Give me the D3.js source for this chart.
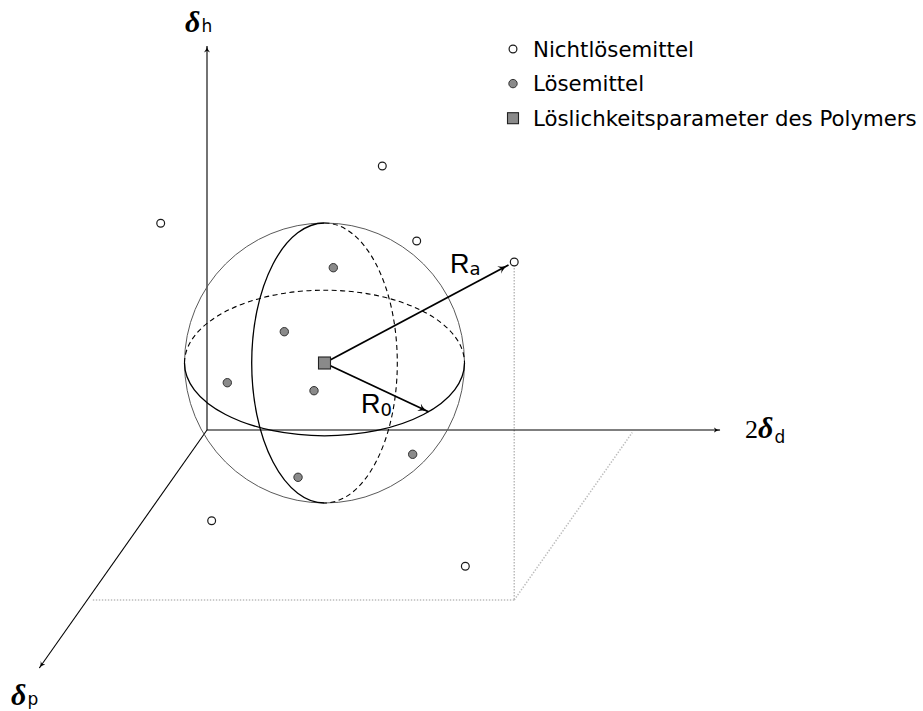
<!DOCTYPE html>
<html>
<head>
<meta charset="utf-8">
<script src="https://cdn.jsdelivr.net/npm/d3@7"></script>
<style>
  html, body { margin: 0; padding: 0; background: #fff; }
  svg { display: block; }
</style>
</head>
<body>
<svg id="chart" width="923" height="711"></svg>
<script>
// Hansen solubility space: points are [δd, δp, δh] in the same arbitrary units.
const nonSolvents = [
  [-4.63, 0, 20.67],
  [17.53, 0, 26.4],
  [20.97, 0, 18.9],
  [42.7, 17, 33.8],
  [8.92, 12, 2.93],
  [37.81, 17, 3.37]
];
const solvents = [
  [12.63, 0, 16.23],
  [7.73, 0, 9.83],
  [2.03, 0, 4.73],
  [10.7, 0, 3.93],
  [24.09, 5, 2.57],
  [14.74, 8, 3.27]
];
const polymer = [11.75, 0, 6.7];        // solubility parameter of the polymer (sphere centre)
const interactionRadius = 14;           // R0
const distantNonSolvent = nonSolvents[3]; // the point reached by Ra
const r0Angle = 42;                     // where R0 meets the equator, degrees
const axisLength = { d: 51.3, h: 38.4, p: 23.8 };

const legendLabels = ["Nichtlösemittel", "Lösemittel", "Löslichkeitsparameter des Polymers"];

// oblique projection: δd to the right, δh upward, δp receding down-left
const dScale = d3.scaleLinear().domain([0, 51.3]).range([207, 720]);
const hScale = d3.scaleLinear().domain([0, 38.4]).range([430, 46]);
const pScale = d3.scaleLinear().domain([0, 23.8]).range([0, 238]);
const pShear = -0.7045;
function project([d, p, h]) {
  const off = pScale(p);
  return [dScale(d) + pShear * off, hScale(h) + off];
}

const svg = d3.select("#chart");
const defs = svg.append("defs");

function arrowMarker(id, len, wid) {
  defs.append("marker")
    .attr("id", id)
    .attr("viewBox", `0 ${-wid} ${len} ${2 * wid}`)
    .attr("refX", len - 0.5).attr("refY", 0)
    .attr("markerUnits", "userSpaceOnUse")
    .attr("markerWidth", len).attr("markerHeight", 2 * wid)
    .attr("orient", "auto")
    .append("path")
    .attr("d", `M0,${-wid} Q${len * 0.45},0 ${len},0 Q${len * 0.45},0 0,${wid} L${len * 0.25},0 Z`)
    .attr("fill", "#000");
}
arrowMarker("axisArrow", 7, 3);
arrowMarker("radArrow", 11, 4.2);

const line = d3.line();

// --- dotted projection of the distant non-solvent onto the δd–δp plane
const [dd, dp, dh] = distantNonSolvent;
const guide = svg.append("g")
  .attr("fill", "none")
  .attr("stroke", "#bcbcbc")
  .attr("stroke-width", 1.5)
  .attr("stroke-dasharray", "1.4,1.6");
guide.append("path").attr("d", line([project([dd, dp, dh]), project([dd, dp, 0])]));
guide.append("path").attr("d", line([project([dd, dp, 0]), project([0.45, dp, 0])]));
guide.append("path").attr("d", line([project([dd, dp, 0]), project([dd, 0.25, 0])]));

// --- axes
const axes = svg.append("g")
  .attr("fill", "none")
  .attr("stroke", "#000")
  .attr("stroke-width", 1.1);
const O = project([0, 0, 0]);
axes.append("path").attr("d", line([O, project([axisLength.d, 0, 0])])).attr("marker-end", "url(#axisArrow)");
axes.append("path").attr("d", line([O, project([0, 0, axisLength.h])])).attr("marker-end", "url(#axisArrow)");
axes.append("path").attr("d", line([O, project([0, axisLength.p, 0])])).attr("marker-end", "url(#axisArrow)");

// --- solubility sphere
const [cx, cy] = project(polymer);
const R = dScale(interactionRadius) - dScale(0);
const minor = R * 0.52;
const sphere = svg.append("g").attr("fill", "none");
sphere.append("circle")
  .attr("cx", cx).attr("cy", cy).attr("r", R)
  .attr("stroke", "#5a5a5a").attr("stroke-width", 1);
// equator: hidden back half dashed, front half solid
sphere.append("path")
  .attr("d", `M${cx - R},${cy} A${R},${minor} 0 0 1 ${cx + R},${cy}`)
  .attr("stroke", "#000").attr("stroke-width", 1.1).attr("stroke-dasharray", "5,3.5");
sphere.append("path")
  .attr("d", `M${cx - R},${cy} A${R},${minor} 0 0 0 ${cx + R},${cy}`)
  .attr("stroke", "#000").attr("stroke-width", 1.3);
// meridian: front (left) half solid, back half dashed
sphere.append("path")
  .attr("d", `M${cx},${cy - R} A${minor},${R} 0 0 0 ${cx},${cy + R}`)
  .attr("stroke", "#000").attr("stroke-width", 1.3);
sphere.append("path")
  .attr("d", `M${cx},${cy - R} A${minor},${R} 0 0 1 ${cx},${cy + R}`)
  .attr("stroke", "#000").attr("stroke-width", 1.1).attr("stroke-dasharray", "5,3.5");

// --- radius arrows
const radii = svg.append("g").attr("stroke", "#000").attr("stroke-width", 1.8).attr("fill", "none");
const target = project(distantNonSolvent);
const vx = target[0] - cx, vy = target[1] - cy, vl = Math.hypot(vx, vy);
const raEnd = [target[0] - vx / vl * 6.5, target[1] - vy / vl * 6.5];
radii.append("path").attr("d", line([[cx, cy], raEnd])).attr("marker-end", "url(#radArrow)");
const t = r0Angle * Math.PI / 180;
const r0End = [cx + R * Math.cos(t), cy + minor * Math.sin(t)];
radii.append("path").attr("d", line([[cx, cy], r0End])).attr("marker-end", "url(#radArrow)");

// --- data points
svg.append("g").selectAll("circle").data(nonSolvents).join("circle")
  .attr("cx", d => project(d)[0]).attr("cy", d => project(d)[1]).attr("r", 3.9)
  .attr("fill", "#fff").attr("stroke", "#1a1a1a").attr("stroke-width", 1.2);
svg.append("g").selectAll("circle").data(solvents).join("circle")
  .attr("cx", d => project(d)[0]).attr("cy", d => project(d)[1]).attr("r", 4.2)
  .attr("fill", "#8a8a8a").attr("stroke", "#333").attr("stroke-width", 1);
svg.append("rect")
  .attr("x", cx - 6).attr("y", cy - 6).attr("width", 12).attr("height", 12)
  .attr("fill", "#8a8a8a").attr("stroke", "#222").attr("stroke-width", 1.1);

// --- labels
const sans = "'DejaVu Sans', 'Liberation Sans', sans-serif";
const serif = "'Liberation Serif', 'DejaVu Serif', serif";
function subLabel(x, y, parts) {
  const tx = svg.append("text").attr("x", x).attr("y", y).attr("fill", "#000");
  parts.forEach(p => {
    tx.append("tspan")
      .attr("font-family", p.family).attr("font-size", p.size)
      .attr("font-weight", p.weight || "normal").attr("font-style", p.style || "normal")
      .attr("dy", p.dy || 0).attr("dx", p.dx || 0)
      .text(p.text);
  });
  return tx;
}
const delta = { family: serif, size: 30, weight: "bold", style: "italic", text: "δ" };
subLabel(185, 32, [delta, { family: sans, size: 17, text: "h", dx: 1 }]);
subLabel(745, 438, [{ family: serif, size: 26, text: "2" }, delta, { family: sans, size: 17, text: "d", dy: 5, dx: 1 }]);
subLabel(11, 705, [delta, { family: sans, size: 17, text: "p", dx: 1 }]);

const rFont = "'Liberation Sans', Arial, sans-serif";
subLabel(450, 273, [{ family: rFont, size: 27, text: "R" }, { family: sans, size: 18, text: "a", dy: 2 }]);
subLabel(361, 413, [{ family: rFont, size: 27, text: "R" }, { family: sans, size: 18, text: "0", dy: 3 }]);

// --- legend
const legend = svg.append("g").attr("transform", "translate(513,49)");
const rowGap = 34.6;
legendLabels.forEach((lab, i) => {
  const g = legend.append("g").attr("transform", `translate(0,${i * rowGap})`);
  if (i === 0) g.append("circle").attr("r", 3.9).attr("fill", "#fff").attr("stroke", "#1a1a1a").attr("stroke-width", 1.2);
  if (i === 1) g.append("circle").attr("r", 4.2).attr("fill", "#8a8a8a").attr("stroke", "#333").attr("stroke-width", 1);
  if (i === 2) g.append("rect").attr("x", -5.5).attr("y", -5.5).attr("width", 11).attr("height", 11)
    .attr("fill", "#8a8a8a").attr("stroke", "#222").attr("stroke-width", 1.1);
  g.append("text").attr("x", 20).attr("y", 7.8)
    .attr("font-family", sans).attr("font-size", 21.3).attr("fill", "#000")
    .text(lab);
});
</script>
</body>
</html>
